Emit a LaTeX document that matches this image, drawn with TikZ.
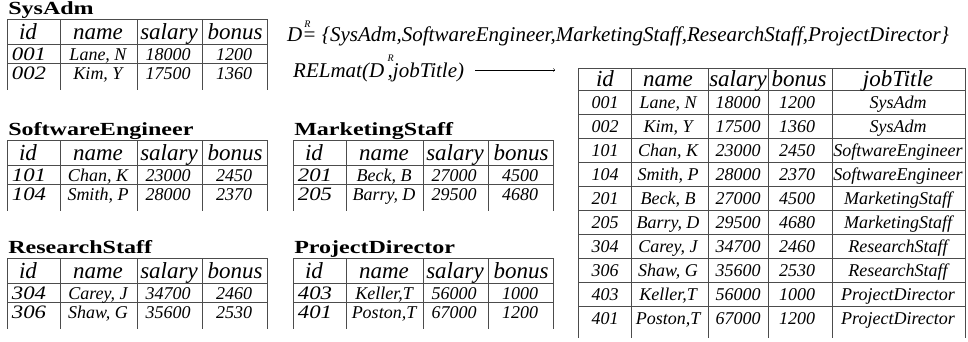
\documentclass[tikz,border=0pt]{standalone}
\usepackage{fontspec}
\setmainfont{Liberation Serif}

\begin{document}
\begin{tikzpicture}
        [x=1pt,y=-1pt,every node/.style={inner sep=0pt,anchor=base},
        tabline/.style={draw=black!70,line width=.8pt},
        tabtitle/.style={anchor=base west,xscale=1.3,font=\bfseries\fontsize{18.5}{18.5}\selectfont},
        head/.style={font=\itshape\fontsize{23}{23}\selectfont},
        key/.style={xscale=1.2,font=\itshape\fontsize{19}{19}\selectfont},
        cell/.style={font=\itshape\fontsize{18}{18}\selectfont},
        formula/.style={anchor=base west,font=\itshape\fontsize{21}{21}\selectfont}]
        \useasboundingbox (0,0) rectangle (968,341);

        % source relations
        \foreach \tb/\tx/\ty/\ttl in {sa/7/19/SysAdm,se/7/140/SoftwareEngineer,
            ms/293/140/MarketingStaff,rs/7/258/ResearchStaff,pd/293/258/ProjectDirector}{
          \node[tabtitle] (\tb) at (\tx+1,\ty-5) {\ttl};
          \draw[tabline] (\tx,\ty) -- ++(260,0) (\tx,\ty+25) -- ++(260,0)
            (\tx,\ty+44) -- ++(260,0);
          \foreach \cx in {0,53,130,195,260}
            \draw[tabline] (\tx+\cx,\ty) -- ++(0,71);
          \node[head] (\tb-id) at (\tx+21,\ty+20) {id};
          \node[head] (\tb-nm) at (\tx+91,\ty+20) {name};
          \node[head] (\tb-sal) at (\tx+162,\ty+20) {salary};
          \node[head] (\tb-bon) at (\tx+228,\ty+20) {bonus};
        }
        \foreach \tb/\tx/\ty/\rw/\id/\nm/\sal/\bon in {
            sa/7/19/1/001/{Lane, N}/18000/1200, sa/7/19/2/002/{Kim, Y}/17500/1360,
            se/7/140/1/101/{Chan, K}/23000/2450, se/7/140/2/104/{Smith, P}/28000/2370,
            ms/293/140/1/201/{Beck, B}/27000/4500, ms/293/140/2/205/{Barry, D}/29500/4680,
            rs/7/258/1/304/{Carey, J}/34700/2460, rs/7/258/2/306/{Shaw, G}/35600/2530,
            pd/293/258/1/403/{Keller,T}/56000/1000, pd/293/258/2/401/{Poston,T}/67000/1200}{
          \node[key] (\tb-\rw-id) at (\tx+22,\ty+22.5+19*\rw) {\id};
          \node[cell] (\tb-\rw-nm) at (\tx+91,\ty+22+19*\rw) {\nm};
          \node[cell] (\tb-\rw-sal) at (\tx+161,\ty+22+19*\rw) {\sal};
          \node[cell] (\tb-\rw-bon) at (\tx+227,\ty+22+19*\rw) {\bon};
        }

        % the definition and the mapping
        \node[formula] (dr) at (287,41) {D\makebox[0pt][l]{\hspace{2pt}\raisebox{14pt}{\fontsize{10}{10}\selectfont R}}= \{SysAdm,SoftwareEngineer,MarketingStaff,ResearchStaff,ProjectDirector\}};
        \node[formula] (relmat) at (293,77) {RELmat(D\,\makebox[0pt][l]{\raisebox{16pt}{\fontsize{10}{10}\selectfont R}},jobTitle)};
        \coordinate (arrowend) at (555,70);
        \draw[->,shorten <=11pt] (relmat.east |- arrowend) -- (arrowend);

        % merged relation
        \draw[tabline] (578,68) -- (965,68);
        \foreach \ry in {90,114,...,306}
          \draw[tabline] (578,\ry) -- (965,\ry);
        \foreach \cx in {578,631,708,768,832,965}
          \draw[tabline] (\cx,68) -- (\cx,338);
        \node[head] (all-id) at (605,86) {id};
        \node[head] (all-nm) at (668,86) {name};
        \node[head] (all-sal) at (738,86) {salary};
        \node[head] (all-bon) at (799,86) {bonus};
        \node[head] (all-job) at (898,86) {jobTitle};
        \foreach \rw/\id/\nm/\sal/\bon/\job in {
            1/001/{Lane, N}/18000/1200/SysAdm, 2/002/{Kim, Y}/17500/1360/SysAdm,
            3/101/{Chan, K}/23000/2450/SoftwareEngineer, 4/104/{Smith, P}/28000/2370/SoftwareEngineer,
            5/201/{Beck, B}/27000/4500/MarketingStaff, 6/205/{Barry, D}/29500/4680/MarketingStaff,
            7/304/{Carey, J}/34700/2460/ResearchStaff, 8/306/{Shaw, G}/35600/2530/ResearchStaff,
            9/403/{Keller,T}/56000/1000/ProjectDirector, 10/401/{Poston,T}/67000/1200/ProjectDirector}{
          \node[cell] (all-\rw-id) at (605,84+24*\rw) {\id};
          \node[cell] (all-\rw-nm) at (668,84+24*\rw) {\nm};
          \node[cell] (all-\rw-sal) at (738,84+24*\rw) {\sal};
          \node[cell] (all-\rw-bon) at (797,84+24*\rw) {\bon};
          \node[cell] (all-\rw-job) at (898,84+24*\rw) {\job};
        }
\end{tikzpicture}
\end{document}
